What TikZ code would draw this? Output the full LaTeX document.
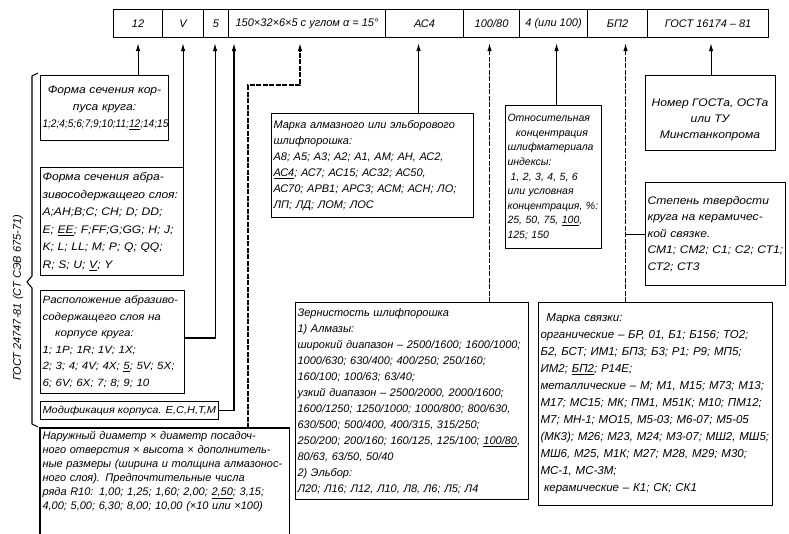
\documentclass[tikz,border=0pt]{standalone}
\usepackage{fontspec}
\setmainfont{Liberation Sans}
\newfontfamily\widef{Liberation Sans}[FakeStretch=1.1]
\newfontfamily\narf{Liberation Sans}[FakeStretch=0.92]
\usetikzlibrary{arrows.meta}
\newcommand{\gfs}[2]{\fontsize{#1}{#2}\selectfont}
\begin{document}
\begin{tikzpicture}[x=1pt,y=-1pt,
  every node/.style={font=\itshape\gfs{11}{16}},
  cell/.style={draw, line width=1.1pt, anchor=north west, minimum height=28pt, inner sep=0pt},
  box/.style={draw, line width=1.1pt, anchor=north west, align=left, inner xsep=2pt, inner ysep=0pt},
  conn/.style={line width=1.1pt},
  arr/.style={conn, -{Latex[length=8pt,width=4.5pt]}, shorten >=5pt},
  dconn/.style={arr, dash pattern=on 5pt off 1.5pt}]
\useasboundingbox (0,0) rectangle (789,533);
\begin{scope}
\clip (0,0) rectangle (789,533);
% top row
\node[cell, minimum width=49pt] (c12) at (113,9) {12};
\node[cell, minimum width=41pt] (cV) at (162,9) {V};
\node[cell, minimum width=25pt] (c5) at (203,9) {5};
\node[cell, minimum width=157pt] (csize) at (228,9) {150×32×6×5 с углом α = 15°};
\node[cell, minimum width=78pt] (cAC) at (385,9) {АС4};
\node[cell, minimum width=56pt] (cGr) at (463,9) {100/80};
\node[cell, minimum width=68pt] (cK) at (519,9) {4 (или 100)};
\node[cell, minimum width=60pt] (cBP) at (587,9) {БП2};
\node[cell, minimum width=121pt] (cG) at (647,9) {ГОСТ 16174 -- 81};

% left column
\node[box, align=center, text width=124pt, minimum height=65pt, font=\widef\itshape\gfs{11}{17}] (f1) at (40,75)
 {Форма сечения кор-\\пуса круга:\\{\narf\itshape 1;2;4;5;6;7;9;10;11;\underline{12};14;15}};
\node[box, text width=139pt, minimum height=108pt, font=\widef\itshape\gfs{11}{17.5}] (f2) at (40,167)
 {Форма сечения абра-\\зивосодержащего слоя:\\A;AH;B;C; CH; D; DD;\\E; \underline{EE}; F;FF;G;GG; H; J;\\K; L; LL; M; P; Q; QQ;\\R; S; U; \underline{V}; Y};
\node[box, text width=140pt, minimum height=103pt, font=\widef\itshape\gfs{10.5}{16.5}] (f3) at (40,290)
 {Расположение абразиво-\\содержащего слоя на\\\hspace*{1.2em}корпусе круга:\\1; 1P; 1R; 1V; 1X;\\2; 3; 4; 4V; 4X; \underline{5}; 5V; 5X;\\6; 6V; 6X; 7; 8; 9; 10};
\node[box, minimum width=176pt, minimum height=18pt, font=\widef\itshape\gfs{10}{14}] (f4) at (40,401)
 {Модификация корпуса. Е,С,Н,Т,М};
\node[box, draw=none, text width=244pt, inner ysep=3pt, font=\itshape\gfs{11}{14}] (f5) at (40,428)
 {Наружный диаметр × диаметр посадоч-\\ного отверстия × высота × дополнитель-\\ные размеры (ширина и толщина алмазонос-\\ного слоя). Предпочтительные числа\\ряда R10: 1,00; 1,25; 1,60; 2,00; \underline{2,50}; 3,15;\\4,00; 5,00; 6,30; 8,00; 10,00 (×10 или ×100)};
\draw[conn] (f5.north west |- 0,545) -- (f5.north west) -- (f5.north east) -- (f5.north east |- 0,545);

% middle column
\node[box, text width=198pt, minimum height=104pt, font=\itshape\gfs{11}{16}] (m1) at (271,113)
 {Марка алмазного или эльборового\\шлифпорошка:\\А8; А5; А3; А2; А1, АМ; АН, АС2,\\\underline{АС4}; АС7; АС15; АС32; АС50,\\АС70; АРВ1; АРС3; АСМ; АСН; ЛО;\\ЛП; ЛД; ЛОМ; ЛОС};
\node[box, text width=229pt, minimum height=197pt, font=\itshape\gfs{11}{16}] (m2) at (295,302)
 {Зернистость шлифпорошка\\1) Алмазы:\\широкий диапазон -- 2500/1600; 1600/1000;\\1000/630; 630/400; 400/250; 250/160;\\160/100; 100/63; 63/40;\\узкий диапазон -- 2500/2000, 2000/1600;\\1600/1250; 1250/1000; 1000/800; 800/630,\\630/500; 500/400, 400/315, 315/250;\\250/200; 200/160; 160/125, 125/100; \underline{100/80},\\80/63, 63/50, 50/40\\2) Эльбор:\\Л20; Л16; Л12, Л10, Л8, Л6; Л5; Л4};

% right column
\node[box, text width=92pt, minimum height=143pt, font=\itshape\gfs{10.5}{14.6}] (r1) at (505,105)
 {Относительная\\\hspace*{.8em}концентрация\\шлифматериала\\индексы:\\\hspace*{.3em}1, 2, 3, 4, 5, 6\\или условная\\концентрация, \%:\\25, 50, 75, \underline{100},\\125; 150};
\node[box, minimum width=130pt, minimum height=75pt] (r2) at (645,75) {};
\node[align=center, font=\widef\itshape\gfs{11}{16}] (r2t) at (710,120) {Номер ГОСТа, ОСТа\\или ТУ\\Минстанкопрома};
\node[box, text width=136pt, minimum height=103pt, font=\widef\itshape\gfs{11}{16.5}] (r3) at (645,182)
 {Степень твердости\\круга на керамичес-\\кой связке.\\СМ1; СМ2; С1; С2; СТ1;\\СТ2; СТ3};
\node[box, text width=230pt, minimum height=203pt, font=\itshape\gfs{11.5}{17}] (r4) at (538,302)
 {\hspace*{.5em}Марка связки:\\органические -- БР, 01, Б1; Б156; ТО2;\\Б2, БСТ; ИМ1; БП3; Б3; Р1; Р9; МП5;\\ИМ2; \underline{БП2}; Р14Е;\\металлические -- М; М1, М15; М73; М13;\\М17; МС15; МК; ПМ1, М51К; М10; ПМ12;\\М7; МН-1; МО15, М5-03; М6-07; М5-05\\(МК3); М26; М23, М24; М3-07; МШ2, МШ5;\\МШ6, М25, М1К; М27; М28, М29; М30;\\МС-1, МС-3М;\\\hspace*{.3em}керамические -- К1; СК; СК1};

% GOST label and bracket
\node[rotate=90, font=\itshape\gfs{11}{13}] (gost) at (18,298) {ГОСТ 24747-81 (СТ СЭВ 675-71)};
\draw[conn, line join=round] (38,73) -- (32,76) -- (32,276) -- (27,282) -- (32,288) -- (32,424) -- (38,427);

% connectors
\draw[arr] (c12.south |- f1.north) -- (c12.south);
\draw[arr] ([yshift=-46pt]f2.north east) -| (cV.south);
\draw[arr] ([yshift=-48pt]f3.north east) -| ([xshift=-1pt]c5.south);
\draw[arr] (f4.east) -| ([xshift=6pt]csize.south west);
\coordinate (kink) at (248,85);
\draw[dconn] (f5.north -| kink) -- (kink) -| ([xshift=72pt]csize.south west);
\draw[arr] ([xshift=-6pt]cAC.south |- m1.north) -- ([xshift=-6pt]cAC.south);
\draw[dconn] ([xshift=-2pt]cGr.south |- m2.north) -- ([xshift=-2pt]cGr.south);
\draw[arr] ([xshift=3pt]cK.south |- r1.north) -- ([xshift=3pt]cK.south);
\coordinate (bp) at ([xshift=8pt]cBP.south);
\draw[dconn] (bp |- r4.north) -- (bp);
\draw[conn] (r3.west) -- (r3.west -| bp);
\draw[arr] ([xshift=3pt]cG.south |- r2.north) -- ([xshift=3pt]cG.south);
\end{scope}
\end{tikzpicture}
\end{document}
